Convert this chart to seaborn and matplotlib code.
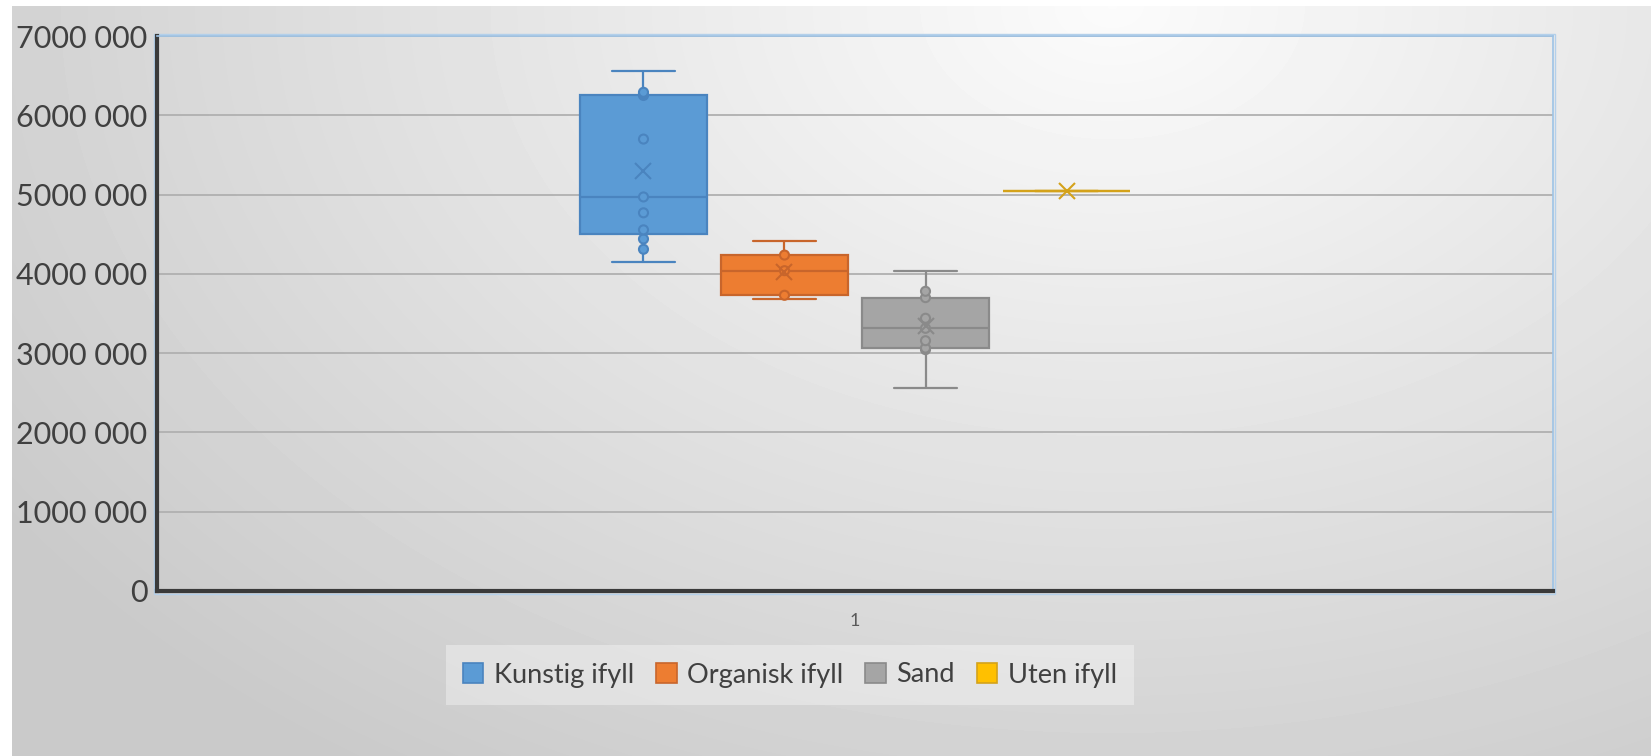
import numpy as np
import pandas as pd
import matplotlib
matplotlib.use("Agg")
import matplotlib.pyplot as plt
import seaborn as sns
from matplotlib.patches import Patch, Rectangle

# ---------------- data ----------------
series = ["Kunstig ifyll", "Organisk ifyll", "Sand", "Uten ifyll"]
category = "1"
kunstig = [4153000, 4310000, 4440000, 4555000, 4770000, 4970000, 5700000,
           6250000, 6270000, 6290000, 6554000]
organisk = [3683000, 3730000, 4040000, 4237000, 4410000]
sand = [2560000, 3044000, 3064000, 3157000, 3313000, 3440000, 3700000,
        3780000, 4036000]
uten = [5050000]
yticks = [0, 1000000, 2000000, 3000000, 4000000, 5000000, 6000000, 7000000]
ytick_labels = ["0", "1000 000", "2000 000", "3000 000", "4000 000",
                "5000 000", "6000 000", "7000 000"]

fill_colors = ["#5B9BD5", "#ED7D31", "#A5A5A5", "#FFC000"]
line_colors = ["#4A84BF", "#C8652B", "#8A8A8A", "#D4A21A"]

values = [kunstig, organisk, sand, uten]
df = pd.DataFrame({
    "category": [category] * sum(len(v) for v in values),
    "series": [s for s, v in zip(series, values) for _ in v],
    "value": [x for v in values for x in v],
})
palette = dict(zip(series, fill_colors))

# ---------------- figure ----------------
sns.set_theme(style="white")
plt.rcParams["font.family"] = ["Lato", "DejaVu Sans"]

W, H = 1651, 756
fig = plt.figure(figsize=(W / 100, H / 100), dpi=100)
fig.patch.set_facecolor("white")

# background gradient (chart area style)
bg = fig.add_axes([12 / W, 0, 1 - 12 / W, 750 / H], zorder=-10)
yy, xx = np.mgrid[0:750, 0:W - 12]
d = np.sqrt(((xx - 1100) / 1100.0) ** 2 + (yy / 760.0) ** 2)
shade = np.clip(0.985 - 0.16 * d, 0.79, 1.0)
bg.imshow(shade, cmap="gray", vmin=0, vmax=1, aspect="auto",
          interpolation="bilinear")
bg.axis("off")

ax = fig.add_axes([157 / W, 1 - 591 / H, 1396 / W, (591 - 36) / H])
ax.set_facecolor("none")

sns.boxplot(data=df, x="category", y="value", hue="series",
            hue_order=series, palette=palette, saturation=1,
            width=0.8, gap=0.1, whis=(0, 100), showmeans=True,
            meanprops=dict(marker="x", markersize=12, markeredgewidth=1.5),
            linewidth=1.6, legend=False, ax=ax)

for cont, lc in zip(ax.containers, line_colors):
    for b in cont.boxes:
        b.set_edgecolor(lc)
    for group in (cont.medians, cont.whiskers, cont.caps):
        for ln in group:
            ln.set_color(lc)
    for ln in cont.means:
        ln.set_markeredgecolor(lc)
        ln.set_markerfacecolor(lc)
        ln.set_zorder(5)

# inner points (all values except min and max)
for s, v, lc in zip(series, values, line_colors):
    inner = sorted(v)[1:-1]
    if not inner:
        continue
    sub = pd.DataFrame({"category": [category] * len(inner),
                        "series": [s] * len(inner), "value": inner})
    sns.stripplot(data=sub, x="category", y="value", hue="series",
                  hue_order=series, palette=palette, dodge=True, jitter=False,
                  size=6.5, linewidth=1.5, edgecolor=lc, legend=False,
                  zorder=4, ax=ax)

ax.set_xlim(-0.99, 0.99)
ax.set_ylim(0, 7000000)
ax.set_yticks(yticks)
ax.set_yticklabels(ytick_labels, fontsize=22, color="#404040")
ax.tick_params(axis="y", length=0, pad=7)
ax.tick_params(axis="x", length=0, pad=16, labelsize=13, labelcolor="#595959")
ax.set_xlabel("")
ax.set_ylabel("")
ax.yaxis.grid(True, color="#b0b0b0", linewidth=1.3)
ax.set_axisbelow(True)

for side in ("left", "bottom"):
    ax.spines[side].set_color("#3a3a3a")
    ax.spines[side].set_linewidth(3)
for side in ("top", "right"):
    ax.spines[side].set_color("#9DC3E6")
    ax.spines[side].set_linewidth(1.2)

# selection-like light blue plot-area frame
fig.add_artist(Rectangle((154 / W, 1 - 594 / H), 1401 / W, 560 / H,
                         transform=fig.transFigure, fill=False,
                         edgecolor="#B4D0EA", linewidth=1, zorder=-5))

handles = [Patch(facecolor=fc, edgecolor=lc, linewidth=1.2, label=s)
           for s, fc, lc in zip(series, fill_colors, line_colors)]
leg = fig.legend(handles=handles, loc="center",
                 bbox_to_anchor=(790 / W, 1 - 675 / H), ncol=4,
                 fontsize=19.5, frameon=True, fancybox=False,
                 handlelength=0.75, handleheight=0.75, handletextpad=0.4,
                 columnspacing=0.8, borderpad=0.65)
leg.get_frame().set_facecolor("#ffffff")
leg.get_frame().set_alpha(0.35)
leg.get_frame().set_linewidth(0)
for t in leg.get_texts():
    t.set_color("#404040")

fig.savefig("out.png", dpi=100)
